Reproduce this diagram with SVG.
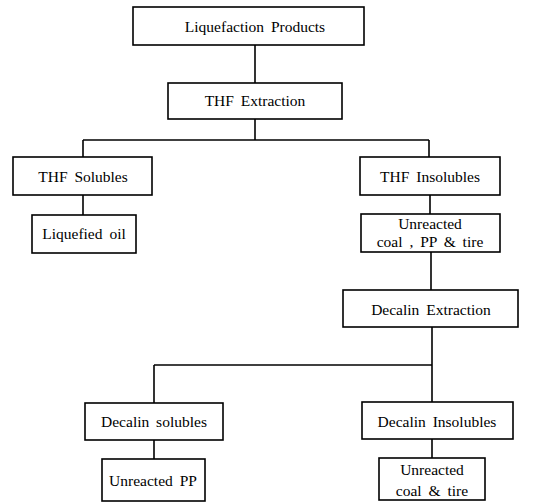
<svg xmlns="http://www.w3.org/2000/svg" width="546" height="503" viewBox="0 0 546 503">
<style>
rect{fill:#fff;stroke:#000;stroke-width:1.6}
.c line{stroke:#000;stroke-width:1.6}
text{fill:#000;text-anchor:middle}
</style>
<rect x="0" y="0" width="546" height="503" style="stroke:none"/>
<g class="c" id="connectors">
<line x1="255" y1="45" x2="255" y2="83"/>
<line x1="255" y1="119" x2="255" y2="140"/>
<line x1="83" y1="140" x2="429" y2="140"/>
<line x1="83" y1="140" x2="83" y2="157"/>
<line x1="429" y1="140" x2="429" y2="157"/>
<line x1="83" y1="195" x2="83" y2="215"/>
<line x1="430" y1="195" x2="430" y2="214"/>
<line x1="431" y1="252" x2="431" y2="290"/>
<line x1="432" y1="327" x2="432" y2="402"/>
<line x1="154" y1="365" x2="432" y2="365"/>
<line x1="154" y1="365" x2="154" y2="403"/>
<line x1="154" y1="440" x2="154" y2="459"/>
<line x1="432" y1="439" x2="432" y2="458"/>
</g>
<g font-family="Liberation Serif, Times New Roman, serif" font-size="15.5" word-spacing="3">
<g id="liquefaction-products"><rect x="133" y="7" width="231" height="38"/><text x="255" y="32">Liquefaction Products</text></g>
<g id="thf-extraction"><rect x="168" y="83" width="174" height="36"/><text x="255" y="106">THF Extraction</text></g>
<g id="thf-solubles"><rect x="13" y="157" width="139" height="38"/><text x="83" y="182">THF Solubles</text></g>
<g id="liquefied-oil"><rect x="32" y="215" width="104" height="38"/><text x="84" y="239">Liquefied oil</text></g>
<g id="thf-insolubles"><rect x="360" y="157" width="140" height="38"/><text x="430" y="182">THF Insolubles</text></g>
<g id="unreacted-coal-pp-tire"><rect x="361" y="214" width="139" height="38"/><text x="430" y="229">Unreacted</text><text x="430" y="247">coal , PP &amp; tire</text></g>
<g id="decalin-extraction"><rect x="343" y="290" width="175" height="37"/><text x="431" y="315">Decalin Extraction</text></g>
<g id="decalin-solubles"><rect x="85" y="403" width="138" height="37"/><text x="154" y="427">Decalin solubles</text></g>
<g id="unreacted-pp"><rect x="102" y="459" width="103" height="42"/><text x="153" y="486">Unreacted PP</text></g>
<g id="decalin-insolubles"><rect x="362" y="402" width="151" height="37"/><text x="437" y="427">Decalin Insolubles</text></g>
<g id="unreacted-coal-tire"><rect x="379" y="458" width="106" height="42"/><text x="432" y="475">Unreacted</text><text x="432" y="496">coal &amp; tire</text></g>
</g>
</svg>
